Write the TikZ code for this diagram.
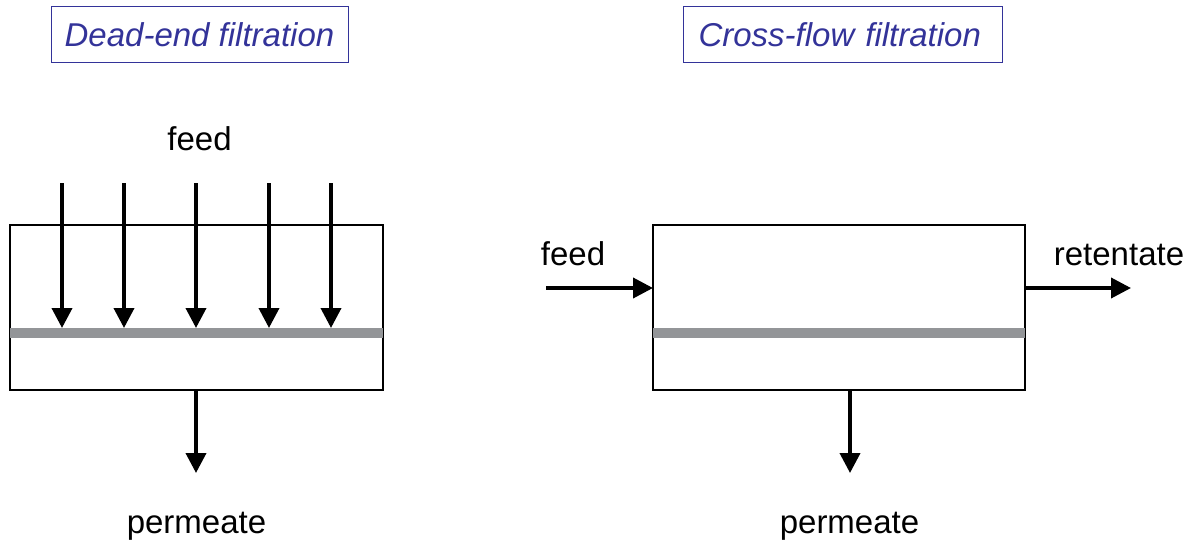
\documentclass[tikz,border=0pt]{standalone}
\usepackage{fontspec}
\setmainfont{Liberation Sans}
\usetikzlibrary{arrows.meta}
\definecolor{titleblue}{HTML}{333399}
\definecolor{membranegray}{HTML}{939598}
\begin{document}
\begin{tikzpicture}[x=1pt,y=-1pt,
  vessel/.style={draw, line width=1.3pt, inner sep=0pt, minimum height=165pt},
  membraneline/.style={draw=membranegray, line width=10pt},
  flow/.style={line width=3.8pt, -{Triangle[width=20pt,length=20pt]}},
  lbl/.style={font=\fontsize{33}{39}\selectfont, inner sep=0pt},
  titlebox/.style={draw=titleblue, line width=1pt, text=titleblue,
    font=\fontsize{33}{39}\selectfont\itshape, minimum height=55pt, inner ysep=0pt}]
\useasboundingbox (0,0) rectangle (1190,543);

% titles
\node[titlebox, minimum width=297pt] (T1) at (199.5,34.5) {Dead-end filtration};
\node[titlebox, anchor=west, text width=289pt, align=left, inner xsep=15pt] (T2) at (683,34.5) {Cross-flow filtration};

% dead-end vessel
\node[vessel, minimum width=373pt] (L) at (196.5,307.5) {};
\coordinate (Lm1) at (10,333);
\coordinate (Lm2) at (383,333);
\draw[membraneline] (Lm1) -- (Lm2);
\node[lbl, anchor=base] (feedL) at (199.5,150) {feed};
\foreach \x [count=\i] in {62,124,196,269,331} {
  \coordinate (fs\i) at (\x,183);
  \coordinate (fe\i) at (\x,328);
  \draw[flow] (fs\i) -- (fe\i);
}
\coordinate (Lout) at (196,390);
\coordinate (Lperm) at (196,473);
\draw[flow] (Lout) -- (Lperm);
\node[lbl, anchor=base] (permL) at (196.5,533) {permeate};

% cross-flow vessel
\node[vessel, minimum width=372pt] (R) at (839,307.5) {};
\coordinate (Rm1) at (653,333);
\coordinate (Rm2) at (1025,333);
\draw[membraneline] (Rm1) -- (Rm2);
\coordinate (Rfs) at (546,288);
\coordinate (Rfe) at (653,288);
\draw[flow] (Rfs) -- (Rfe);
\node[lbl, anchor=base] (feedR) at (573,265) {feed};
\coordinate (Rrs) at (1025,288);
\coordinate (Rre) at (1131,288);
\draw[flow] (Rrs) -- (Rre);
\node[lbl, anchor=base] (ret) at (1119,265) {retentate};
\coordinate (Rout) at (850,390);
\coordinate (Rperm) at (850,473);
\draw[flow] (Rout) -- (Rperm);
\node[lbl, anchor=base] (permR) at (849.5,533) {permeate};
\end{tikzpicture}
\end{document}
